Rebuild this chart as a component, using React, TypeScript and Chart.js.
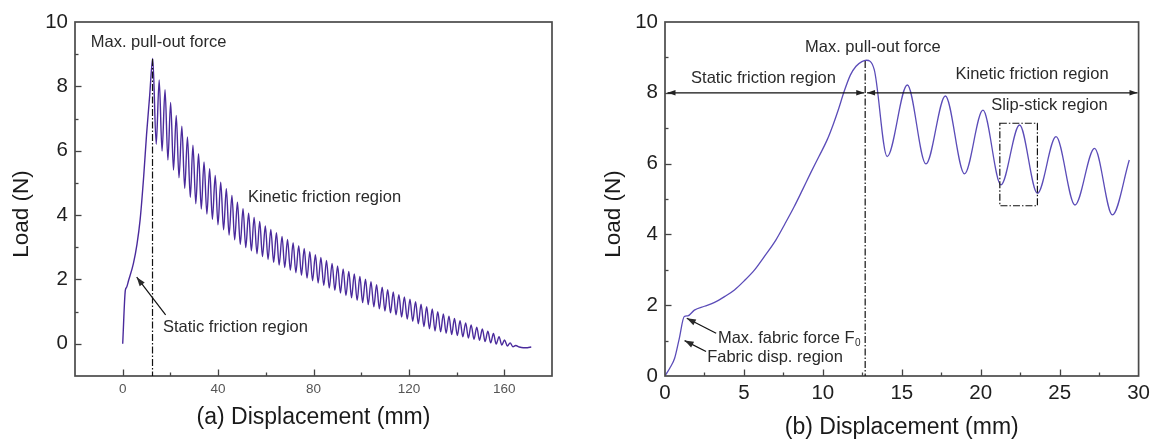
import React, { useEffect, useRef } from 'react';
import { Chart, registerables } from 'chart.js';

Chart.register(...registerables);

const FONT = '"Liberation Sans", Arial, Helvetica, sans-serif';

// ---------- Panel (a): full pull-out curve ----------
const aRiseX = [0, 1.1, 1.6, 2.4, 4.5, 6.0, 7.3, 8.8, 10.0, 11.3];
const aRiseY = [0, 1.66, 1.75, 1.95, 2.5, 3.1, 3.85, 5.2, 6.5, 7.7];
const aPeakX = [12.6, 15.3, 17.75, 20.1, 22.45, 24.8, 27.15, 29.45, 31.8, 34.1, 36.45, 38.8, 41.1, 43.45, 45.8, 48.1, 50.45, 52.8, 55.1, 57.45, 59.8, 62.1, 64.45, 66.8, 69.1, 71.45, 73.8, 76.1, 78.45, 80.8, 83.1, 85.45, 87.8, 90.1, 92.45, 94.8, 97.1, 99.45, 101.8, 104.1, 106.45, 108.8, 111.1, 113.45, 115.8, 118.1, 120.45, 122.8, 125.1, 127.45, 129.8, 132.1, 134.45, 136.8, 139.1, 141.45, 143.8, 146.1, 148.45, 150.8, 153.1, 155.45, 157.8, 160.1, 162.45, 164.8];
const aPeakY = [8.87, 8.2, 7.9, 7.5, 7.1, 6.76, 6.43, 6.17, 5.91, 5.65, 5.44, 5.23, 5.02, 4.82, 4.61, 4.4, 4.2, 4.06, 3.93, 3.8, 3.66, 3.55, 3.45, 3.34, 3.24, 3.14, 3.05, 2.96, 2.86, 2.77, 2.68, 2.59, 2.5, 2.42, 2.33, 2.25, 2.17, 2.09, 2.01, 1.93, 1.84, 1.76, 1.68, 1.61, 1.53, 1.46, 1.39, 1.31, 1.23, 1.15, 1.08, 1.0, 0.93, 0.86, 0.79, 0.72, 0.65, 0.59, 0.52, 0.46, 0.39, 0.32, 0.22, 0.12, 0.03, -0.05];
const aValleyX = [14.05, 16.5, 18.95, 21.3, 23.6, 26.0, 28.35, 30.65, 32.95, 35.3, 37.6, 39.95, 42.3, 44.6, 46.95, 49.3, 51.6, 53.95, 56.3, 58.6, 60.95, 63.3, 65.6, 67.95, 70.3, 72.6, 74.95, 77.3, 79.6, 81.95, 84.3, 86.6, 88.95, 91.3, 93.6, 95.95, 98.3, 100.6, 102.95, 105.3, 107.6, 109.95, 112.3, 114.6, 116.95, 119.3, 121.6, 123.95, 126.3, 128.6, 130.95, 133.3, 135.6, 137.95, 140.3, 142.6, 144.95, 147.3, 149.6, 151.95, 154.3, 156.6, 158.95, 161.3, 163.6];
const aValleyY = [6.2, 5.99, 5.71, 5.4, 5.16, 4.83, 4.55, 4.35, 4.19, 4.03, 3.87, 3.7, 3.54, 3.38, 3.23, 3.09, 2.99, 2.89, 2.8, 2.71, 2.62, 2.53, 2.45, 2.37, 2.29, 2.21, 2.13, 2.04, 1.96, 1.89, 1.81, 1.73, 1.66, 1.58, 1.5, 1.43, 1.35, 1.28, 1.22, 1.15, 1.09, 1.02, 0.96, 0.9, 0.83, 0.77, 0.7, 0.62, 0.54, 0.47, 0.4, 0.37, 0.33, 0.29, 0.26, 0.22, 0.18, 0.14, 0.11, 0.07, 0.03, -0.01, -0.04, -0.07, -0.09];
const aTailX = [166.3, 168.0, 169.7, 171.3];
const aTailY = [-0.1, -0.12, -0.12, -0.1];

const aXTicks = [-20, 0, 20, 40, 60, 80, 100, 120, 140, 160, 180];
const aXLabels = [0, 40, 80, 120, 160];
const aYTicks = [-1, 0, 1, 2, 3, 4, 5, 6, 7, 8, 9, 10];
const aYLabels = [0, 2, 4, 6, 8, 10];

// ---------- Panel (b): first 30 mm ----------
// loading branch up to the max. pull-out force
const bRiseX = [0, 0.3, 0.61, 0.9, 1.22, 1.45, 1.86, 2.5, 3.14, 3.8, 4.4, 5.0, 5.66, 6.3, 7.02, 7.6, 8.18, 8.7, 9.22, 9.75, 10.27, 10.65, 11.0, 11.32, 11.74, 12.1, 12.47, 12.75];
const bRiseY = [0, 0.22, 0.5, 1.05, 1.68, 1.7, 1.86, 1.97, 2.08, 2.25, 2.43, 2.68, 2.99, 3.38, 3.84, 4.3, 4.78, 5.25, 5.73, 6.2, 6.67, 7.1, 7.55, 8.0, 8.5, 8.75, 8.88, 8.92];
// slip-stick branch: peaks and valleys
const bSlipX = [13.25, 14.07, 15.35, 16.53, 17.76, 18.97, 20.14, 21.28, 22.46, 23.59, 24.77, 25.97, 27.21, 28.34, 29.41];
const bSlipY = [8.66, 6.2, 8.22, 5.99, 7.91, 5.71, 7.51, 5.4, 7.09, 5.16, 6.76, 4.83, 6.43, 4.55, 6.1];

const bXTicks = [0, 2.5, 5, 7.5, 10, 12.5, 15, 17.5, 20, 22.5, 25, 27.5, 30];
const bXLabels = [0, 5, 10, 15, 20, 25, 30];
const bYTicks = [0, 1, 2, 3, 4, 5, 6, 7, 8, 9, 10];
const bYLabels = [0, 2, 4, 6, 8, 10];

type Pt = { x: number; y: number };
const zip = (xs: number[], ys: number[]): Pt[] => xs.map((x, i) => ({ x, y: ys[i] }));

const aPoints: Pt[] = [
  ...zip(aRiseX, aRiseY),
  ...zip(aPeakX, aPeakY),
  ...zip(aValleyX, aValleyY),
  ...zip(aTailX, aTailY),
].sort((p, q) => p.x - q.x);
const bPoints: Pt[] = [...zip(bRiseX, bRiseY), ...zip(bSlipX, bSlipY)];

type Ann =
  | { kind: 'text'; x: number; y: number; text: string; sub?: string }
  | { kind: 'arrow'; x1: number; y1: number; x2: number; y2: number }
  | { kind: 'dashdot'; x1: number; y1: number; x2: number; y2: number }
  | { kind: 'rect'; x1: number; y1: number; x2: number; y2: number }
  | { kind: 'darrow'; x1: number; x2: number; y: number };

const aAnn: Ann[] = [
  { kind: 'dashdot', x1: 12.5, y1: 8.85, x2: 12.5, y2: -1 },
  { kind: 'text', x: -13.4, y: 9.35, text: 'Max. pull-out force' },
  { kind: 'text', x: 52.5, y: 4.56, text: 'Kinetic friction region' },
  { kind: 'text', x: 16.9, y: 0.52, text: 'Static friction region' },
  { kind: 'arrow', x1: 18.0, y1: 0.9, x2: 5.87, y2: 2.07 },
];

const bAnn: Ann[] = [
  { kind: 'dashdot', x1: 12.68, y1: 8.9, x2: 12.68, y2: 0 },
  { kind: 'darrow', x1: 0.16, x2: 12.62, y: 8 },
  { kind: 'darrow', x1: 12.8, x2: 29.93, y: 8 },
  { kind: 'rect', x1: 21.21, y1: 7.14, x2: 23.59, y2: 4.81 },
  { kind: 'text', x: 8.87, y: 9.27, text: 'Max. pull-out force' },
  { kind: 'text', x: 1.65, y: 8.4, text: 'Static friction region' },
  { kind: 'text', x: 18.4, y: 8.53, text: 'Kinetic friction region' },
  { kind: 'text', x: 20.66, y: 7.63, text: 'Slip-stick region' },
  { kind: 'text', x: 3.35, y: 1.06, text: 'Max. fabric force F', sub: '0' },
  { kind: 'text', x: 2.67, y: 0.52, text: 'Fabric disp. region' },
  { kind: 'arrow', x1: 3.24, y1: 1.21, x2: 1.38, y2: 1.63 },
  { kind: 'arrow', x1: 2.6, y1: 0.69, x2: 1.24, y2: 1.0 },
];

interface PanelCfg {
  points: Pt[];
  color: string;
  lineWidth: number;
  xMin: number; xMax: number; yMin: number; yMax: number;
  xTicks: number[]; xLabels: number[]; yTicks: number[]; yLabels: number[];
  xTickSize: number; xTickColor: string; yTickSize: number;
  yAxisWidth: number; padRight: number;
  ann: Ann[];
  xTitle: string; xTitleDy: number;
  yTitle: string; yTitleDx: number;
}

function head(ctx: CanvasRenderingContext2D, fx: number, fy: number, tx: number, ty: number, len: number, hw: number) {
  const a = Math.atan2(ty - fy, tx - fx);
  const c = Math.cos(a), s = Math.sin(a);
  ctx.beginPath();
  ctx.moveTo(tx, ty);
  ctx.lineTo(tx - len * c - hw * s, ty - len * s + hw * c);
  ctx.lineTo(tx - len * c + hw * s, ty - len * s - hw * c);
  ctx.closePath();
  ctx.fill();
}

function decorPlugin(cfg: PanelCfg) {
  return {
    id: 'decor',
    afterDatasetsDraw(chart: any) {
      const { ctx, chartArea: ca, scales } = chart;
      const xs = scales.x, ys = scales.y;
      const px = (v: number) => xs.getPixelForValue(v);
      const py = (v: number) => ys.getPixelForValue(v);
      ctx.save();
      // inward ticks
      ctx.strokeStyle = '#444';
      ctx.lineWidth = 1.3;
      cfg.xTicks.forEach((v) => {
        if (v <= cfg.xMin || v >= cfg.xMax) return;
        const len = cfg.xLabels.includes(v) ? 6.5 : 3.5;
        const X = Math.round(px(v)) + 0.5;
        ctx.beginPath(); ctx.moveTo(X, ca.bottom); ctx.lineTo(X, ca.bottom - len); ctx.stroke();
      });
      cfg.yTicks.forEach((v) => {
        if (v <= cfg.yMin || v >= cfg.yMax) return;
        const len = cfg.yLabels.includes(v) ? 6.5 : 3.5;
        const Y = Math.round(py(v)) + 0.5;
        ctx.beginPath(); ctx.moveTo(ca.left, Y); ctx.lineTo(ca.left + len, Y); ctx.stroke();
      });
      // frame
      ctx.strokeStyle = '#4a4a4a';
      ctx.lineWidth = 1.7;
      ctx.strokeRect(ca.left, ca.top, ca.right - ca.left, ca.bottom - ca.top);

      // annotations
      ctx.fillStyle = '#222';
      ctx.strokeStyle = '#111';
      for (const a of cfg.ann) {
        if (a.kind === 'dashdot' || a.kind === 'rect') {
          ctx.save();
          ctx.lineWidth = 1.2;
          ctx.setLineDash([7, 2, 1.5, 2]);
          if (a.kind === 'dashdot') {
            ctx.beginPath(); ctx.moveTo(px(a.x1), py(a.y1)); ctx.lineTo(px(a.x2), py(a.y2)); ctx.stroke();
          } else {
            const x1 = px(a.x1), x2 = px(a.x2), y1 = py(a.y1), y2 = py(a.y2);
            ctx.strokeRect(x1, y1, x2 - x1, y2 - y1);
          }
          ctx.restore();
        } else if (a.kind === 'arrow') {
          const x1 = px(a.x1), y1 = py(a.y1), x2 = px(a.x2), y2 = py(a.y2);
          ctx.lineWidth = 1.2;
          ctx.beginPath(); ctx.moveTo(x1, y1); ctx.lineTo(x2, y2); ctx.stroke();
          head(ctx, x1, y1, x2, y2, 9, 3.2);
        } else if (a.kind === 'darrow') {
          const x1 = px(a.x1), x2 = px(a.x2), Y = py(a.y);
          ctx.lineWidth = 1.3;
          ctx.beginPath(); ctx.moveTo(x1, Y); ctx.lineTo(x2, Y); ctx.stroke();
          head(ctx, x2, Y, x1, Y, 8, 2.8);
          head(ctx, x1, Y, x2, Y, 8, 2.8);
        } else if (a.kind === 'text') {
          ctx.font = `16.5px ${FONT}`;
          ctx.fillStyle = '#2a2a2a';
          ctx.textAlign = 'left';
          ctx.textBaseline = 'middle';
          const X = px(a.x), Y = py(a.y);
          ctx.fillText(a.text, X, Y);
          if (a.sub) {
            const w = ctx.measureText(a.text).width;
            ctx.font = `10px ${FONT}`;
            ctx.fillText(a.sub, X + w + 0.5, Y + 5);
          }
        }
      }

      // axis titles
      ctx.fillStyle = '#1a1a1a';
      ctx.textAlign = 'center';
      ctx.textBaseline = 'middle';
      ctx.font = `23px ${FONT}`;
      ctx.fillText(cfg.xTitle, (ca.left + ca.right) / 2, ca.bottom + cfg.xTitleDy);
      ctx.save();
      ctx.translate(ca.left + cfg.yTitleDx, ca.top + 192);
      ctx.rotate(-Math.PI / 2);
      ctx.font = `22.5px ${FONT}`;
      ctx.fillText(cfg.yTitle, 0, 0);
      ctx.restore();
      ctx.restore();
    },
  };
}

function buildConfig(cfg: PanelCfg): any {
  return {
    type: 'line',
    data: {
      datasets: [
        {
          data: cfg.points,
          borderColor: cfg.color,
          borderWidth: cfg.lineWidth,
          pointRadius: 0,
          fill: false,
          cubicInterpolationMode: 'monotone',
        },
      ],
    },
    options: {
      animation: false,
      responsive: false,
      parsing: false,
      events: [],
      layout: { padding: { top: 22, right: cfg.padRight, left: 0, bottom: 0 } },
      plugins: { legend: { display: false }, tooltip: { enabled: false }, title: { display: false } },
      scales: {
        x: {
          type: 'linear',
          min: cfg.xMin,
          max: cfg.xMax,
          afterBuildTicks: (s: any) => { s.ticks = cfg.xTicks.map((v) => ({ value: v })); },
          afterFit: (s: any) => { s.height = 65; },
          grid: { display: false, drawTicks: false },
          border: { display: false },
          ticks: {
            autoSkip: false,
            maxRotation: 0,
            minRotation: 0,
            padding: 5,
            color: cfg.xTickColor,
            font: { family: FONT, size: cfg.xTickSize },
            callback: (v: number) => (cfg.xLabels.includes(v) ? String(v) : ''),
          },
        },
        y: {
          type: 'linear',
          min: cfg.yMin,
          max: cfg.yMax,
          afterBuildTicks: (s: any) => { s.ticks = cfg.yTicks.map((v) => ({ value: v })); },
          afterFit: (s: any) => { s.width = cfg.yAxisWidth; },
          grid: { display: false, drawTicks: false },
          border: { display: false },
          ticks: {
            autoSkip: false,
            padding: 7,
            color: '#1e1e1e',
            font: { family: FONT, size: cfg.yTickSize },
            callback: (v: number) => (cfg.yLabels.includes(v) ? String(v) : ''),
          },
        },
      },
    },
    plugins: [decorPlugin(cfg)],
  };
}

const panelA: PanelCfg = {
  points: aPoints,
  color: '#4a2a9c',
  lineWidth: 1.4,
  xMin: -20, xMax: 180, yMin: -1, yMax: 10,
  xTicks: aXTicks, xLabels: aXLabels, yTicks: aYTicks, yLabels: aYLabels,
  xTickSize: 13.5, xTickColor: '#555', yTickSize: 20.5,
  yAxisWidth: 75, padRight: 26,
  ann: aAnn,
  xTitle: '(a) Displacement (mm)', xTitleDy: 42,
  yTitle: 'Load (N)', yTitleDx: -53.3,
};

const panelB: PanelCfg = {
  points: bPoints,
  color: '#5b4cb8',
  lineWidth: 1.3,
  xMin: 0, xMax: 30, yMin: 0, yMax: 10,
  xTicks: bXTicks, xLabels: bXLabels, yTicks: bYTicks, yLabels: bYLabels,
  xTickSize: 20.5, xTickColor: '#1e1e1e', yTickSize: 20.5,
  yAxisWidth: 87, padRight: 13,
  ann: bAnn,
  xTitle: '(b) Displacement (mm)', xTitleDy: 52,
  yTitle: 'Load (N)', yTitleDx: -51.6,
};

function Panel({ cfg, left, width }: { cfg: PanelCfg; left: number; width: number }) {
  const ref = useRef<HTMLCanvasElement>(null);
  useEffect(() => {
    if (!ref.current) return;
    const chart = new Chart(ref.current, buildConfig(cfg));
    return () => chart.destroy();
  }, [cfg]);
  return (
    <canvas
      ref={ref}
      width={width}
      height={441}
      style={{ position: 'absolute', left, top: 0, width, height: 441 }}
    />
  );
}

export default function App() {
  return (
    <div style={{ position: 'fixed', left: 0, top: 0, width: 1155, height: 441, background: '#fff', overflow: 'hidden' }}>
      <Panel cfg={panelA} left={0} width={578} />
      <Panel cfg={panelB} left={578} width={577} />
    </div>
  );
}
